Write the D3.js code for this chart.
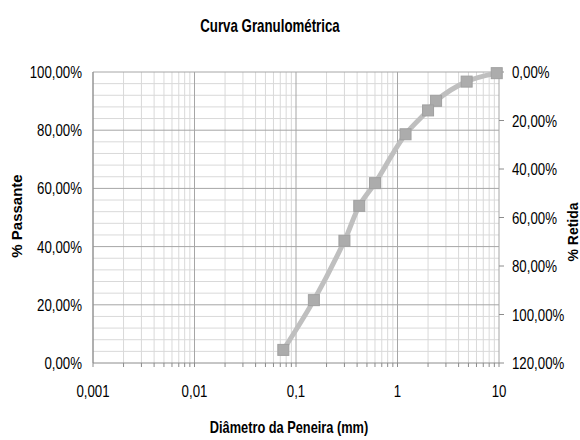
<!DOCTYPE html>
<html>
<head>
<meta charset="utf-8">
<script src="https://cdn.jsdelivr.net/npm/d3@7"></script>
<style>
  body { margin: 0; background: white; }
  text { font-family: "Liberation Sans", Arial, sans-serif; fill: #000; }
</style>
</head>
<body>
<div id="chart"></div>
<script>
// sieve openings (mm) and passing percentage
var diameters = [9.5, 4.8, 2.4, 2.0, 1.2, 0.6, 0.42, 0.3, 0.15, 0.075]
var passing = [99.6, 96.7, 90.1, 86.8, 78.6, 61.8, 54.0, 42.0, 21.6, 4.5]
var xTicks = [0.001, 0.01, 0.1, 1, 10]
var xTickLabels = ["0,001", "0,01", "0,1", "1", "10"]
var leftTicks = [0, 20, 40, 60, 80, 100]
var rightTicks = [0, 20, 40, 60, 80, 100, 120]

var width = 580, height = 440
var margin = { top: 72, right: 81, bottom: 77, left: 93 }

// no narrow font installed, so squeeze the text horizontally
var narrow = 0.78

var svg = d3.select("#chart")
    .append("svg")
    .attr("width", width)
    .attr("height", height)

var x = d3.scaleLog().domain([0.001, 10]).range([margin.left, width - margin.right])
var y = d3.scaleLinear().domain([0, 100]).range([height - margin.bottom, margin.top])
var yRight = d3.scaleLinear().domain([0, 120]).range([margin.top, height - margin.bottom])

var fmt = d => d.toFixed(2).replace(".", ",") + "%"

// minor ticks of the log axis (2..9 in each decade)
var minorX = []
xTicks.slice(0, -1).forEach(d => {
    for (var k = 2; k <= 9; k++) minorX.push(d * k)
})
var minorY = d3.range(0, 101, 4).filter(d => d % 20 !== 0)

var grid = svg.append("g")

grid.selectAll(".hminor")
    .data(minorY)
    .enter()
    .append("line")
    .attr("x1", x.range()[0]).attr("x2", x.range()[1])
    .attr("y1", d => y(d)).attr("y2", d => y(d))
    .attr("stroke", "#d9d9d9")

grid.selectAll(".vminor")
    .data(minorX)
    .enter()
    .append("line")
    .attr("x1", d => x(d)).attr("x2", d => x(d))
    .attr("y1", y(0)).attr("y2", y(100))
    .attr("stroke", "#d9d9d9")

grid.selectAll(".hmajor")
    .data(leftTicks.slice(1))
    .enter()
    .append("line")
    .attr("x1", x.range()[0]).attr("x2", x.range()[1])
    .attr("y1", d => y(d)).attr("y2", d => y(d))
    .attr("stroke", "#a6a6a6")

grid.selectAll(".vmajor")
    .data(xTicks)
    .enter()
    .append("line")
    .attr("x1", d => x(d)).attr("x2", d => x(d))
    .attr("y1", y(0)).attr("y2", y(100))
    .attr("stroke", "#a6a6a6")

// bottom axis line and tick marks
svg.append("line")
    .attr("x1", x.range()[0]).attr("x2", x.range()[1])
    .attr("y1", y(0)).attr("y2", y(0))
    .attr("stroke", "#8c8c8c")

svg.selectAll(".xtick")
    .data(xTicks.concat(minorX))
    .enter()
    .append("line")
    .attr("x1", d => x(d)).attr("x2", d => x(d))
    .attr("y1", y(0)).attr("y2", y(0) + 4)
    .attr("stroke", "#8c8c8c")

// left axis line
svg.append("line")
    .attr("x1", x(0.001)).attr("x2", x(0.001))
    .attr("y1", y(0)).attr("y2", y(100))
    .attr("stroke", "#8c8c8c")

// right axis ticks
svg.selectAll(".rtick")
    .data(rightTicks)
    .enter()
    .append("line")
    .attr("x1", x(10)).attr("x2", x(10) + 5)
    .attr("y1", d => yRight(d)).attr("y2", d => yRight(d))
    .attr("stroke", "#8c8c8c")

svg.selectAll(".xlabel")
    .data(xTicks)
    .enter()
    .append("text")
    .attr("transform", d => "translate(" + x(d) + "," + (y(0) + 34) + ") scale(" + narrow + ",1)")
    .attr("text-anchor", "middle")
    .style("font-size", "17px")
    .text((d, i) => xTickLabels[i])

svg.selectAll(".ylabel")
    .data(leftTicks)
    .enter()
    .append("text")
    .attr("transform", d => "translate(" + (x(0.001) - 11) + "," + (y(d) + 6) + ") scale(" + narrow + ",1)")
    .attr("text-anchor", "end")
    .style("font-size", "17px")
    .text(d => fmt(d))

svg.selectAll(".rlabel")
    .data(rightTicks)
    .enter()
    .append("text")
    .attr("transform", d => "translate(" + (x(10) + 13) + "," + (yRight(d) + 6) + ") scale(" + narrow + ",1)")
    .attr("text-anchor", "start")
    .style("font-size", "17px")
    .text(d => fmt(d))

// the curve
var points = diameters.map((d, i) => [d, passing[i]])

var line = d3.line()
    .x(d => x(d[0]))
    .y(d => y(d[1]))
    .curve(d3.curveCatmullRom)

svg.append("path")
    .datum(points)
    .attr("d", line)
    .attr("fill", "none")
    .attr("stroke", "#bfbfbf")
    .attr("stroke-width", 5)

svg.selectAll(".marker")
    .data(points)
    .enter()
    .append("rect")
    .attr("x", d => x(d[0]) - 5.5)
    .attr("y", d => y(d[1]) - 5.5)
    .attr("width", 11)
    .attr("height", 11)
    .attr("fill", "#acacac")
    .attr("stroke", "#a0a0a0")

// titles
svg.append("text")
    .attr("transform", "translate(270,32) scale(0.7,1)")
    .attr("text-anchor", "middle")
    .style("font-size", "19px")
    .style("font-weight", "bold")
    .text("Curva Granulométrica")

svg.append("text")
    .attr("transform", "translate(289,433) scale(0.8,1)")
    .attr("text-anchor", "middle")
    .style("font-size", "16px")
    .style("font-weight", "bold")
    .text("Diâmetro da Peneira (mm)")

svg.append("text")
    .attr("transform", "translate(22,216) rotate(-90)")
    .attr("text-anchor", "middle")
    .style("font-size", "15px")
    .style("font-weight", "bold")
    .text("% Passante")

svg.append("text")
    .attr("transform", "translate(578,232) rotate(-90)")
    .attr("text-anchor", "middle")
    .style("font-size", "14px")
    .style("font-weight", "bold")
    .text("% Retida")
</script>
</body>
</html>
